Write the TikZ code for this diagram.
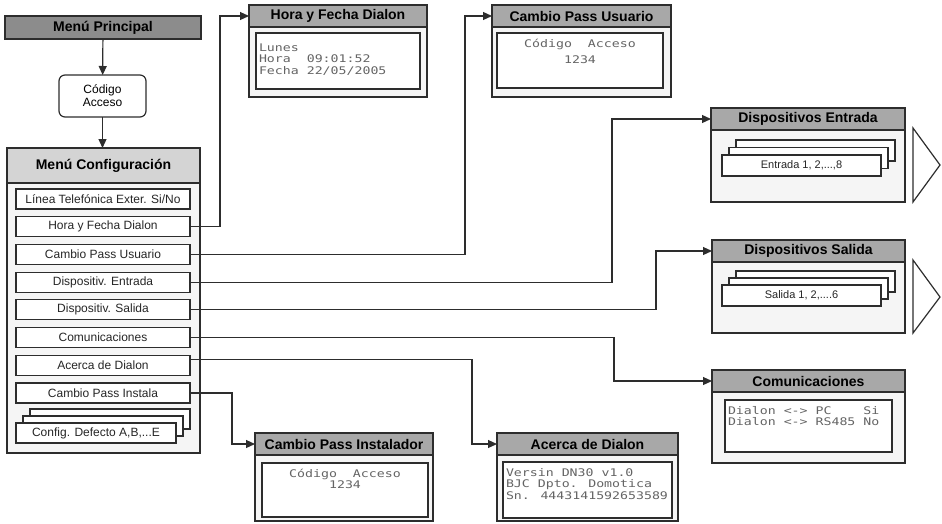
\documentclass[tikz,border=0pt]{standalone}
\usepackage{fontspec}
\setmainfont{Liberation Sans}
\newfontfamily\lcdfont[FakeStretch=1.26]{DejaVu Sans Mono}
\usetikzlibrary{arrows.meta,positioning}
\definecolor{dline}{RGB}{45,45,45}
\definecolor{hdark}{RGB}{140,140,140}
\definecolor{hmid}{RGB}{168,168,168}
\definecolor{hlight}{RGB}{212,212,212}
\definecolor{pbody}{RGB}{245,245,245}
\definecolor{lcdgray}{RGB}{100,100,100}
\tikzset{
  every node/.style={inner sep=0pt,outer sep=0pt},
  mainbox/.style={rectangle,draw=dline,line width=1.2pt,fill=hdark,anchor=north west,
    minimum width=196pt,minimum height=23pt,font=\fontsize{14}{16}\selectfont\bfseries},
  codebox/.style={rectangle,rounded corners=6pt,draw=dline,line width=1.2pt,fill=white,
    anchor=north west,minimum width=87pt,minimum height=42pt,align=center,
    font=\fontsize{12}{13}\selectfont},
  cfgbox/.style={rectangle,draw=dline,line width=1.2pt,fill=pbody,anchor=north west},
  cfghead/.style={rectangle,draw=dline,line width=1.2pt,fill=hlight,anchor=north,
    font=\fontsize{14}{16}\selectfont\bfseries},
  itembox/.style={rectangle,draw=dline,line width=1.2pt,fill=white,minimum width=174pt,
    minimum height=20pt,font=\fontsize{12}{13}\selectfont,text=black!85},
  % panels on the right: grey title bar, light body, display inside
  panel/.style={rectangle,draw=dline,line width=1.2pt,fill=pbody,anchor=north west},
  panelhead/.style={rectangle,draw=dline,line width=1.2pt,fill=hmid,anchor=north,
    minimum height=22pt,font=\fontsize{14}{16}\selectfont\bfseries},
  lcdbox/.style={rectangle,draw=dline,line width=1.2pt,fill=white,anchor=north west,
    inner xsep=3pt},
  stackbox/.style={rectangle,draw=dline,line width=1.2pt,fill=white,anchor=north west,
    minimum width=159pt,minimum height=21pt,font=\fontsize{11}{12}\selectfont,text=black!85},
  fwdmark/.style={draw=dline,line width=1.2pt,fill=white},
  arr/.style={-{Triangle[length=9pt,width=8pt]},line width=1.2pt,draw=dline}
}
\newcommand{\lcd}[4][\raggedright]{\parbox[c][#3][t]{#2}{#1\lcdfont\fontsize{10.5}{11.5}\selectfont
  \color{lcdgray}\rule{0pt}{14pt}#4}}

\begin{document}
\begin{tikzpicture}[x=1pt,y=-1pt]
  \useasboundingbox (0,0) rectangle (942,523);

  % left column
  \node[mainbox] (principal) at (5,16) {Menú Principal};
  \node[codebox] (codigo) at (59,75) {Código\\Acceso};
  \node[cfgbox,minimum width=193pt,minimum height=305pt] (cfgB) at (7,148) {};
  \node[cfghead,minimum width=193pt,minimum height=35pt] (cfgH) at (cfgB.north) {Menú Configuración};
  \draw[arr] (principal) -- (codigo);
  \draw[arr] (codigo.south) -- (codigo.south |- cfgB.north);

  \node[itembox,anchor=north west] (linea) at (16,189) {Línea Telefónica Exter. Si/No};
  \node[itembox,below=7.7pt of linea] (hora) {Hora y Fecha Dialon};
  \node[itembox,below=7.7pt of hora] (usuario) {Cambio Pass Usuario};
  \node[itembox,below=7.7pt of usuario] (entrada) {Dispositiv. Entrada};
  \node[itembox,below=7.7pt of entrada] (salida) {Dispositiv. Salida};
  \node[itembox,below=7.7pt of salida] (comun) {Comunicaciones};
  \node[itembox,below=7.7pt of comun] (acerca) {Acerca de Dialon};
  \node[itembox,below=7.7pt of acerca] (instala) {Cambio Pass Instala};
  \node[itembox,anchor=north west,minimum width=160pt] (defC) at (30,409) {};
  \node[itembox,anchor=north west,minimum width=160pt] (defB) at (23,416) {};
  \node[itembox,anchor=north west,minimum width=160pt] (defecto) at (16,423) {Config. Defecto A,B,...E};

  % Hora y Fecha
  \node[panel,minimum width=178pt,minimum height=92pt] (horaP) at (249,5) {};
  \node[panelhead,minimum width=178pt] (horaH) at (horaP.north) {Hora y Fecha Dialon};
  \node[lcdbox] (horaL) at (256,33)
    {\lcd{158pt}{56pt}{\rule{0pt}{18pt}Lunes\\Hora\ \ 09:01:52\\Fecha 22/05/2005}};

  % Cambio Pass Usuario
  \node[panel,minimum width=179pt,minimum height=92pt] (usuarioP) at (492,5) {};
  \node[panelhead,minimum width=179pt] (usuarioH) at (usuarioP.north) {Cambio Pass Usuario};
  \node[lcdbox] (usuarioL) at (497,33)
    {\lcd[\centering]{160pt}{55pt}{Código\ \ Acceso\\[5pt]1234}};

  % Dispositivos Entrada
  \node[panel,minimum width=194pt,minimum height=94pt] (entradaP) at (711,108) {};
  \node[panelhead,minimum width=194pt] (entradaH) at (entradaP.north) {Dispositivos Entrada};
  \node[stackbox] (entC) at (736,140) {};
  \node[stackbox] (entB) at (729,147.5) {};
  \node[stackbox] (entA) at (722,155) {Entrada 1, 2,...,8};
  \draw[fwdmark] (913,128) -- (940,165) -- (913,202) -- cycle;

  % Dispositivos Salida
  \node[panel,minimum width=193pt,minimum height=93pt] (salidaP) at (712,240) {};
  \node[panelhead,minimum width=193pt] (salidaH) at (salidaP.north) {Dispositivos Salida};
  \node[stackbox] (salC) at (736,271) {};
  \node[stackbox] (salB) at (729,278) {};
  \node[stackbox] (salA) at (722,285) {Salida 1, 2,....6};
  \draw[fwdmark] (913,260) -- (940,297) -- (913,333) -- cycle;

  % Comunicaciones
  \node[panel,minimum width=193pt,minimum height=93pt] (comunP) at (712,370) {};
  \node[panelhead,minimum width=193pt] (comunH) at (comunP.north) {Comunicaciones};
  \node[lcdbox] (comunL) at (725,400)
    {\lcd{161pt}{52pt}{Dialon <-> PC\ \ \ \ Si\\Dialon <-> RS485 No}};

  % Cambio Pass Instalador
  \node[panel,minimum width=178pt,minimum height=88pt] (instalaP) at (255,433) {};
  \node[panelhead,minimum width=178pt] (instalaH) at (instalaP.north) {Cambio Pass Instalador};
  \node[lcdbox] (instalaL) at (262,463)
    {\lcd[\centering]{160pt}{54pt}{Código\ \ Acceso\\1234}};

  % Acerca de Dialon
  \node[panel,minimum width=181pt,minimum height=88pt] (acercaP) at (497,433) {};
  \node[panelhead,minimum width=181pt] (acercaH) at (acercaP.north) {Acerca de Dialon};
  \node[lcdbox] (acercaL) at (503,462)
    {\lcd{163pt}{56pt}{Versin DN30 v1.0\\BJC Dpto. Domotica\\Sn. 4443141592653589}};

  % connectors
  \draw[arr] (hora.east) -- ++(30,0) |- (horaH.west);
  \draw[arr] (usuario.east) -- ++(275,0) |- (usuarioH.west);
  \draw[arr] (entrada.east) -- ++(422,0) |- (entradaH.west);
  \draw[arr] (salida.east) -- ++(466,0) |- (salidaH.west);
  \draw[arr] (comun.east) -- ++(424,0) |- (comunH.west);
  \draw[arr] ([yshift=6pt]acerca.east) -- ++(282,0) |- (acercaH.west);
  \draw[arr] (instala.east) -- ++(42,0) |- (instalaH.west);
\end{tikzpicture}
\end{document}
